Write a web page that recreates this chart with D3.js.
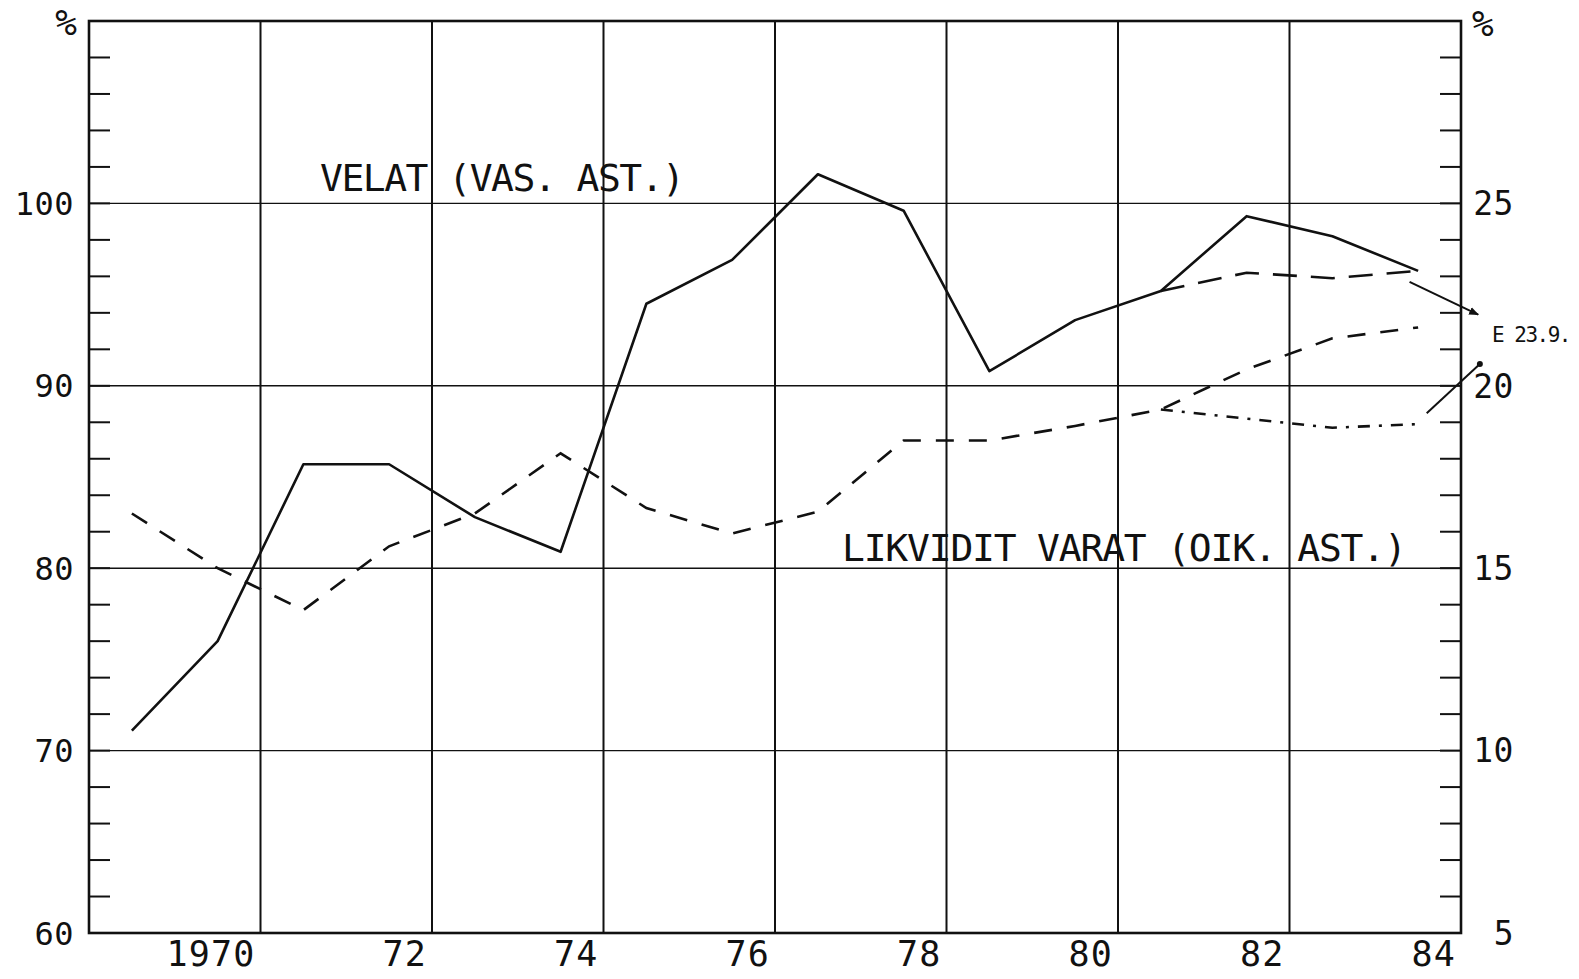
<!DOCTYPE html>
<html><head><meta charset="utf-8">
<script src="https://cdn.jsdelivr.net/npm/d3@7"></script>
<style>
html,body{margin:0;padding:0;background:#fff;}
text{font-family:"DejaVu Sans Mono",monospace;fill:#111;}
</style></head>
<body><svg id="c" width="1579" height="979"></svg>
<script>
// ---- data ----
const years = [1969,1970,1971,1972,1973,1974,1975,1976,1977,1978,1979,1980,1981,1982,1983,1984];
const velat = [71.1,76.0,85.7,85.7,82.8,80.9,94.5,96.9,101.6,99.6,90.8,93.6,95.2,99.3,98.2,96.3];       // left axis
const likvidit = [16.5,15.0,13.85,15.6,16.5,18.15,16.65,15.95,16.55,18.5,18.5,18.9,19.35,20.45,21.3,21.6]; // right axis
const altYears = [1981,1982,1983,1984];
const velatAlt = [95.2,96.2,95.9,96.3];
const likviditAlt = [19.35,19.1,18.85,18.95];
// estimate arrows (x in year units, y in axis units)
const velatArrow = [[1984.4,95.7],[1985.2,93.9]];
const likviditArrow = [[1984.6,19.25],[1985.22,20.6]];
const estLabel = "E 23.9.";
const leftTicks = [60,70,80,90,100];
const rightTicks = [5,10,15,20,25];
const xLabelYears = [1970,1972,1974,1976,1978,1980,1982,1984];
const xLabels = ["1970","72","74","76","78","80","82","84"];
const velatTitle = "VELAT (VAS. AST.)";
const likviditTitle = "LIKVIDIT VARAT (OIK. AST.)";

// ---- layout ----
const L = 89, R = 1461, T = 21, B = 933;
const svg = d3.select("#c");
const x = d3.scaleLinear().domain([1969,1985]).range([L,R]);
const yL = d3.scaleLinear().domain([60,110]).range([B,T]);
const yR = d3.scaleLinear().domain([5,30]).range([B,T]);
const ink = "#111";

// horizontal gridlines
svg.append("g").selectAll("line").data([70,80,90,100]).join("line")
  .attr("x1",L).attr("x2",R).attr("y1",d=>yL(d)).attr("y2",d=>yL(d))
  .attr("stroke",ink).attr("stroke-width",1.4);
// vertical gridlines at ends of even years
svg.append("g").selectAll("line").data(xLabelYears.slice(0,-1)).join("line")
  .attr("x1",d=>x(d+1)).attr("x2",d=>x(d+1)).attr("y1",T).attr("y2",B)
  .attr("stroke",ink).attr("stroke-width",2);

// minor ticks (inside) every 2 left units / 1 right unit
const minor = d3.range(62,110,2);
svg.append("g").selectAll("line").data(minor).join("line")
  .attr("x1",L).attr("x2",L+21).attr("y1",d=>yL(d)).attr("y2",d=>yL(d))
  .attr("stroke",ink).attr("stroke-width",2);
svg.append("g").selectAll("line").data(minor).join("line")
  .attr("x1",R-21).attr("x2",R).attr("y1",d=>yL(d)).attr("y2",d=>yL(d))
  .attr("stroke",ink).attr("stroke-width",2);

// frame
svg.append("rect").attr("x",L).attr("y",T).attr("width",R-L).attr("height",B-T)
  .attr("fill","none").attr("stroke",ink).attr("stroke-width",2.6);

// axis labels
svg.append("g").selectAll("text").data(leftTicks).join("text")
  .attr("x",74).attr("y",d=>yL(d)).attr("dy","0.36em").attr("text-anchor","end")
  .attr("font-size",32).attr("letter-spacing",0.5).text(d=>d);
svg.append("g").selectAll("text").data(rightTicks).join("text")
  .attr("x",1514).attr("y",d=>yR(d)).attr("dy","0.36em").attr("text-anchor","end")
  .attr("font-size",33).attr("letter-spacing",0.5).text(d=>d);
svg.append("g").selectAll("text").data(xLabelYears).join("text")
  .attr("x",(d,i)=>x(d+1)-5).attr("y",966).attr("text-anchor","end")
  .attr("font-size",35).attr("letter-spacing",1.2).text((d,i)=>xLabels[i]);
svg.append("text").attr("x",77).attr("y",35).attr("text-anchor","end").attr("font-size",36).text("%");
svg.append("text").attr("x",1472).attr("y",36).attr("text-anchor","start").attr("font-size",36).text("%");

// series titles
svg.append("text").attr("x",320).attr("y",191).attr("font-size",38).attr("letter-spacing",-1.5).text(velatTitle);
svg.append("text").attr("x",842).attr("y",561).attr("font-size",38).attr("letter-spacing",-1.2).text(likviditTitle);

// lines
const lineL = d3.line().x(d=>x(d[0]+0.5)).y(d=>yL(d[1]));
const lineR = d3.line().x(d=>x(d[0]+0.5)).y(d=>yR(d[1]));
svg.append("path").datum(years.map((y,i)=>[y,velat[i]])).attr("d",lineL)
  .attr("fill","none").attr("stroke",ink).attr("stroke-width",2.6).attr("stroke-linejoin","round");
svg.append("path").datum(years.map((y,i)=>[y,likvidit[i]])).attr("d",lineR)
  .attr("fill","none").attr("stroke",ink).attr("stroke-width",2.6).attr("stroke-dasharray","18,15");
svg.append("path").datum(altYears.map((y,i)=>[y,velatAlt[i]])).attr("d",lineL)
  .attr("fill","none").attr("stroke",ink).attr("stroke-width",2.6).attr("stroke-dasharray","24,14");
svg.append("path").datum(altYears.map((y,i)=>[y,likviditAlt[i]])).attr("d",lineR)
  .attr("fill","none").attr("stroke",ink).attr("stroke-width",2.6).attr("stroke-dasharray","12,9,3,9");

// estimate arrows
svg.append("defs").append("marker").attr("id","ah").attr("viewBox","0 0 10 10")
  .attr("refX",9).attr("refY",5).attr("markerWidth",5).attr("markerHeight",5)
  .attr("orient","auto").append("path").attr("d","M0,1 L10,5 L0,9 Z").attr("fill",ink);
const arL = d3.line().x(d=>x(d[0])).y(d=>yL(d[1]));
const arR = d3.line().x(d=>x(d[0])).y(d=>yR(d[1]));
svg.append("path").datum(velatArrow).attr("d",arL).attr("fill","none")
  .attr("stroke",ink).attr("stroke-width",2).attr("marker-end","url(#ah)");
svg.append("path").datum(likviditArrow).attr("d",arR).attr("fill","none")
  .attr("stroke",ink).attr("stroke-width",2);
svg.append("circle").attr("cx",x(likviditArrow[1][0])).attr("cy",yR(likviditArrow[1][1])).attr("r",3).attr("fill",ink);
svg.append("text").attr("x",1492).attr("y",342).attr("font-size",21).attr("letter-spacing",-1.5).text(estLabel);
</script></body></html>
